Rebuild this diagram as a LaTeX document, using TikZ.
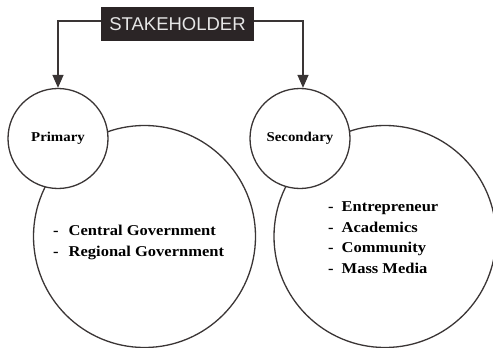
\documentclass[tikz,border=0pt]{standalone}
\usepackage{fontspec}
\setmainfont{Liberation Serif}[FakeStretch=1.1]
\newfontfamily\boxfont{Liberation Sans}
\usetikzlibrary{arrows.meta}
\definecolor{linec}{HTML}{3A3535}
\definecolor{boxc}{HTML}{2B2526}
\definecolor{boxtext}{HTML}{E6E6E6}
\tikzset{
  bigcirc/.style={circle, draw=linec, line width=1.3pt, minimum size=222pt, inner sep=0pt},
  smallcirc/.style={circle, draw=linec, line width=1.3pt, fill=white, minimum size=100pt, inner sep=0pt,
    font=\fontsize{13.5}{16}\selectfont\bfseries},
  headbox/.style={fill=boxc, text=boxtext, minimum width=153pt, minimum height=34pt, inner sep=0pt,
    font=\boxfont\fontsize{18.5}{20}\selectfont},
  listtext/.style={inner sep=0pt, align=left, font=\fontsize{15}{20.5}\selectfont\bfseries},
  conn/.style={draw=linec, line width=1.4pt, -{Triangle[width=11pt,length=13pt]}}
}
\begin{document}
\begin{tikzpicture}[x=1pt,y=-1pt]
\useasboundingbox (0,0) rectangle (493,348);
\node[bigcirc] (pbig) at (144.5,236.5) {};
\node[bigcirc] (sbig) at (385,236.5) {};
\node[smallcirc] (prim) at (58,138.5) {Primary};
\node[smallcirc] (sec) at (300,138.5) {Secondary};
\node[headbox] (stake) at (177.5,24) {STAKEHOLDER};
\draw[conn] ([yshift=3pt]stake.west) -| (prim.north);
\draw[conn] ([yshift=3pt]stake.east) -| ([xshift=3pt]sec.north);
\node[listtext, anchor=west] (plist) at (53,242.5) {-\hspace{10pt}Central Government\\-\hspace{10pt}Regional Government};
\node[listtext, anchor=west] (slist) at (328,237.5) {-\hspace{8pt}Entrepreneur\\-\hspace{8pt}Academics\\-\hspace{8pt}Community\\-\hspace{8pt}Mass Media};
\end{tikzpicture}
\end{document}
